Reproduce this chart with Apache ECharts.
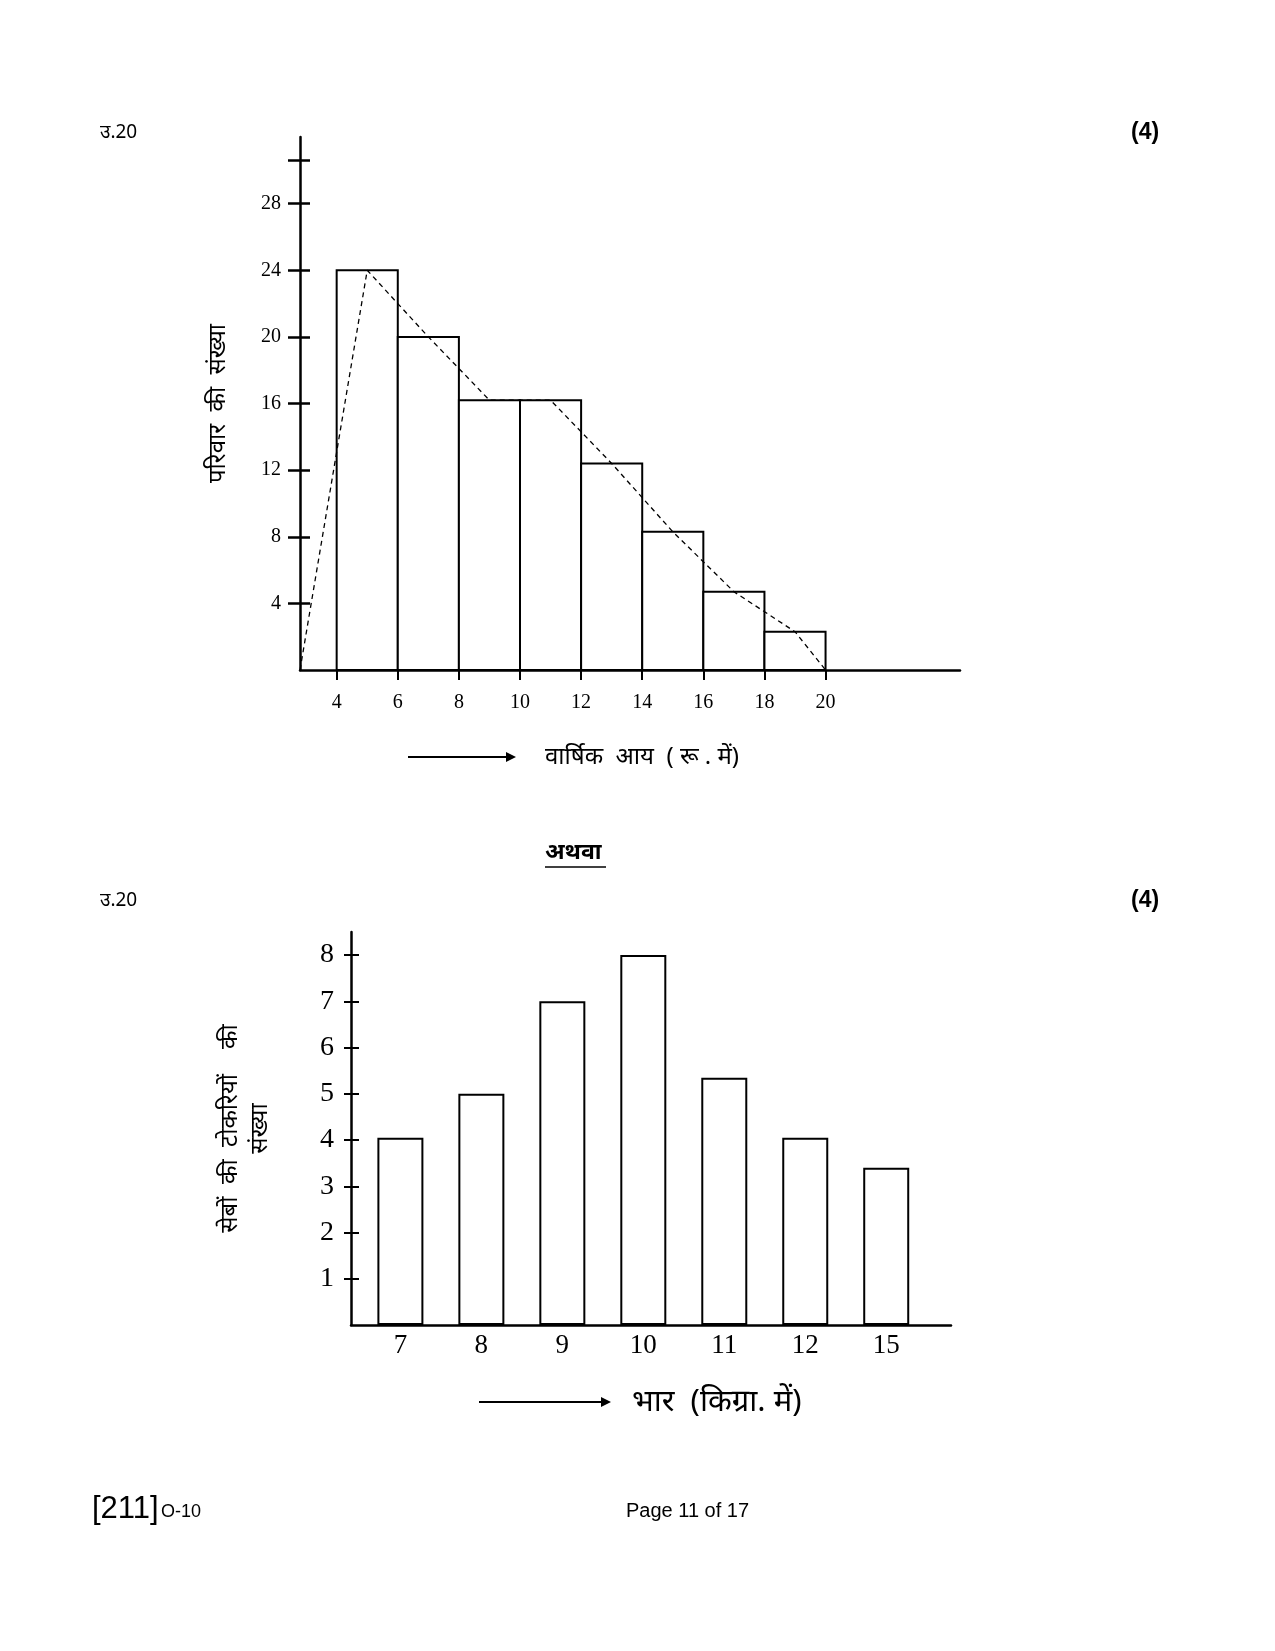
<!DOCTYPE html>
<html>
<head>
<meta charset="utf-8">
<script src="https://cdn.jsdelivr.net/npm/echarts@6/dist/echarts.min.js"></script>
<style>
  html, body { margin: 0; background: #fff; }
  #chart { width: 1275px; height: 1651px; }
</style>
</head>
<body>
<div id="chart"></div>
<script>
// histogram: annual income classes vs number of families
const binStart = [4, 6, 8, 10, 12, 14, 16, 18]
const binEnd = [6, 8, 10, 12, 14, 16, 18, 20]
const families = [24, 20, 16.2, 16.2, 12.4, 8.3, 4.7, 2.3]
// frequency polygon (dashed)
const polyX = [2.8, 5, 7, 9, 11, 13, 15, 17, 19, 20]
const polyY = [0, 24, 20, 16.2, 16.2, 12.4, 8.3, 4.7, 2.3, 0]
const incomeTicks = [4, 6, 8, 10, 12, 14, 16, 18, 20]
const familyLabels = [4, 8, 12, 16, 20, 24, 28]
const familyTicks = [4, 8, 12, 16, 20, 24, 28, 30.6]

// bar chart: weight (kg) vs number of apple baskets
const weights = ['7', '8', '9', '10', '11', '12', '15']
const baskets = [4.05, 5, 7, 8, 5.35, 4.05, 3.4]
const basketTicks = [1, 2, 3, 4, 5, 6, 7, 8]

const serif = 'Liberation Serif'
const sans = 'Liberation Sans'
const deva = 'Noto Sans, sans-serif'

/**
 * 直方图矩形
 */
function histItem(params, api) {
  const top = api.coord([api.value(0), api.value(2)])
  const bottom = api.coord([api.value(1), 0])
  return {
    type: 'rect',
    shape: { x: top[0], y: top[1], width: bottom[0] - top[0], height: bottom[1] - top[1] },
    style: { fill: '#fff', stroke: '#000', lineWidth: 2 }
  }
}

function arrow(x1, x2, y) {
  return {
    type: 'group',
    children: [
      { type: 'line', shape: { x1: x1, y1: y, x2: x2 - 8, y2: y }, style: { stroke: '#000', lineWidth: 2 } },
      { type: 'polygon', shape: { points: [[x2 - 10, y - 5], [x2, y], [x2 - 10, y + 5]] }, style: { fill: '#000' } }
    ]
  }
}

const histData = binStart.map((s, i) => [s, binEnd[i], families[i]])
const polyData = polyX.map((x, i) => [x, polyY[i]])
const barData = baskets.map((v, i) => [i, v])

const axisLine = { show: true, onZero: false, lineStyle: { color: '#000', width: 2.5 } }

let option = {
  animation: false,
  backgroundColor: '#fff',
  grid: [
    { left: 300, top: 137, width: 660, height: 533, outerBoundsMode: 'none' },
    { left: 351, top: 932, width: 600, height: 393, outerBoundsMode: 'none' }
  ],
  xAxis: [
    {
      type: 'value', gridIndex: 0, min: 2.8, max: 24.4,
      splitLine: { show: false },
      axisLine: axisLine,
      axisTick: { show: true, customValues: incomeTicks, length: 10, lineStyle: { color: '#000', width: 2 } },
      axisLabel: { customValues: incomeTicks, margin: 23, color: '#000', fontFamily: serif, fontSize: 20 }
    },
    {
      type: 'value', gridIndex: 1, min: -0.61, max: 6.8,
      splitLine: { show: false },
      axisLine: axisLine,
      axisTick: { show: false },
      axisLabel: {
        customValues: weights.map((w, i) => i), margin: 7, color: '#000', fontFamily: serif, fontSize: 27,
        formatter: v => weights[Math.round(v)]
      }
    }
  ],
  yAxis: [
    {
      type: 'value', gridIndex: 0, position: 'left', min: 0, max: 32,
      name: 'परिवार  की  संख्या', nameLocation: 'middle', nameRotate: 90, nameGap: 70,
      nameTextStyle: { color: '#000', fontFamily: deva, fontSize: 24 },
      splitLine: { show: false },
      axisLine: axisLine,
      axisTick: { show: true, customValues: familyTicks, length: 12, lineStyle: { color: '#000', width: 2.5 } },
      axisLabel: { customValues: familyLabels, margin: 19, color: '#000', fontFamily: serif, fontSize: 20 }
    },
    {
      type: 'value', gridIndex: 0, position: 'left', offset: 0, min: 0, max: 32,
      splitLine: { show: false },
      axisLine: { show: false, onZero: false },
      axisTick: { show: true, inside: true, customValues: familyTicks, length: 10, lineStyle: { color: '#000', width: 2.5 } },
      axisLabel: { show: false }
    },
    {
      type: 'value', gridIndex: 1, position: 'left', min: 0, max: 8.5,
      name: 'सेबों  की  टोकरियों    की\nसंख्या', nameLocation: 'middle', nameRotate: 90, nameGap: 76,
      nameTextStyle: { color: '#000', fontFamily: deva, fontSize: 24, lineHeight: 30, align: 'center' },
      splitLine: { show: false },
      axisLine: axisLine,
      axisTick: { show: true, customValues: basketTicks, length: 7, lineStyle: { color: '#000', width: 2 } },
      axisLabel: { customValues: basketTicks, margin: 17, color: '#000', fontFamily: serif, fontSize: 28 }
    },
    {
      type: 'value', gridIndex: 1, position: 'left', offset: 0, min: 0, max: 8.5,
      splitLine: { show: false },
      axisLine: { show: false, onZero: false },
      axisTick: { show: true, inside: true, customValues: basketTicks, length: 8, lineStyle: { color: '#000', width: 2 } },
      axisLabel: { show: false }
    }
  ],
  series: [
    {
      type: 'custom', xAxisIndex: 0, yAxisIndex: 0,
      renderItem: histItem,
      encode: { x: [0, 1], y: 2 },
      data: histData, z: 2
    },
    {
      type: 'line', xAxisIndex: 0, yAxisIndex: 0,
      data: polyData, symbol: 'none', z: 3,
      lineStyle: { color: '#000', width: 1.3, type: [5, 4] }
    },
    {
      type: 'bar', xAxisIndex: 1, yAxisIndex: 2,
      data: barData, barWidth: 46,
      itemStyle: { color: '#fff', borderColor: '#000', borderWidth: 2 }
    }
  ],
  graphic: [
    { type: 'text', left: 100, top: 123, style: { text: 'उ.20', fontFamily: deva, fontSize: 19, fill: '#000' } },
    { type: 'text', left: 1131, top: 121, style: { text: '(4)', fontFamily: sans, fontWeight: 'bold', fontSize: 23, fill: '#000' } },
    arrow(408, 516, 757),
    { type: 'text', left: 545, top: 745, style: { text: 'वार्षिक  आय  ( रू . में)', fontFamily: deva, fontSize: 24, fill: '#000' } },
    { type: 'text', left: 545, top: 841, style: { text: 'अथवा', fontFamily: deva, fontWeight: 'bold', fontSize: 23, fill: '#000' } },
    { type: 'line', shape: { x1: 545, y1: 867, x2: 606, y2: 867 }, style: { stroke: '#000', lineWidth: 1.5 } },
    { type: 'text', left: 100, top: 891, style: { text: 'उ.20', fontFamily: deva, fontSize: 19, fill: '#000' } },
    { type: 'text', left: 1131, top: 889, style: { text: '(4)', fontFamily: sans, fontWeight: 'bold', fontSize: 23, fill: '#000' } },
    arrow(479, 611, 1402),
    { type: 'text', left: 632, top: 1387, style: { text: 'भार  (किग्रा. में)', fontFamily: deva, fontSize: 31, fill: '#000' } },
    { type: 'text', left: 92, top: 1494, style: { text: '[211]', fontFamily: sans, fontSize: 31, fill: '#000' } },
    { type: 'text', left: 161, top: 1503, style: { text: 'O-10', fontFamily: sans, fontSize: 18, fill: '#000' } },
    { type: 'text', left: 626, top: 1501, style: { text: 'Page 11 of 17', fontFamily: sans, fontSize: 20, fill: '#000' } }
  ]
}

var myChart = echarts.init(document.getElementById('chart'), null, { renderer: 'canvas' })
myChart.setOption(option, true)
</script>
</body>
</html>
